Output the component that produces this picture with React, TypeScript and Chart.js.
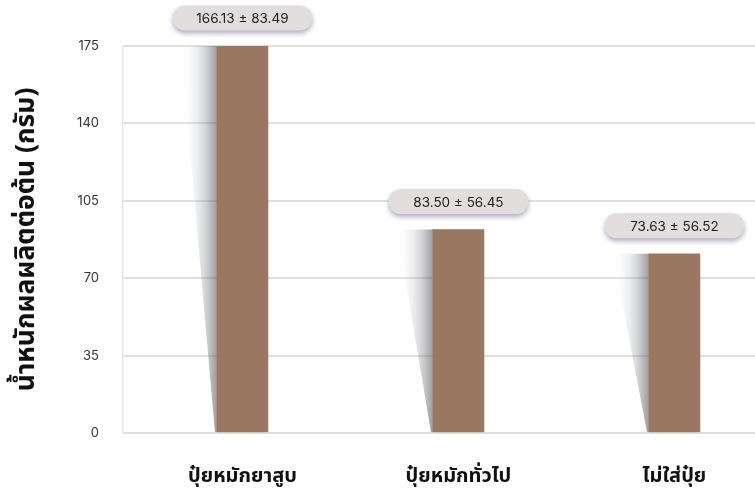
import React, { useEffect, useRef } from 'react';
import { Chart, registerables } from 'chart.js';

Chart.register(...registerables);

const categories = ['ปุ๋ยหมักยาสูบ', 'ปุ๋ยหมักทั่วไป', 'ไม่ใส่ปุ๋ย'];
const positions = [1, 2, 3];
const barHeights = [175, 92, 81];
const means = ['166.13', '83.50', '73.63'];
const sds = ['83.49', '56.45', '56.52'];
const yTicks = [0, 35, 70, 105, 140, 175];
const yTitle = 'น้ำหนักผลผลิตต่อต้น (กรัม)';

const THAI = "'Noto Sans Thai', 'Noto Sans Thai UI', 'Noto Sans', Roboto, sans-serif";
const NUM = "Inter, Roboto, 'Noto Sans', sans-serif";

const barShadow = {
  id: 'barShadow',
  beforeDatasetsDraw(chart: any) {
    const ctx = chart.ctx;
    const meta = chart.getDatasetMeta(0);
    meta.data.forEach((bar: any) => {
      const left = bar.x - bar.width / 2;
      const w = 36;
      const g = ctx.createLinearGradient(left - w, 0, left, 0);
      g.addColorStop(0, 'rgba(255,255,255,0)');
      g.addColorStop(0.6, 'rgba(120,124,132,0.25)');
      g.addColorStop(1, 'rgba(70,74,84,0.55)');
      ctx.save();
      ctx.beginPath();
      ctx.moveTo(left - w, bar.y);
      ctx.lineTo(left, bar.y);
      ctx.lineTo(left, bar.base);
      ctx.lineTo(left - 2, bar.base);
      ctx.closePath();
      ctx.fillStyle = g;
      ctx.fill();
      ctx.restore();
    });
  },
};

const pills = {
  id: 'pills',
  afterDatasetsDraw(chart: any) {
    const ctx = chart.ctx;
    const meta = chart.getDatasetMeta(0);
    meta.data.forEach((bar: any, i: number) => {
      const cx = bar.x;
      const cy = bar.y - 28;
      const w = 140;
      const h = 25;
      const x0 = cx - w / 2;
      const y0 = cy - h / 2;
      ctx.save();
      ctx.shadowColor = 'rgba(80,80,120,0.45)';
      ctx.shadowBlur = 5;
      ctx.shadowOffsetY = 3;
      ctx.beginPath();
      ctx.roundRect(x0, y0, w, h, h / 2);
      ctx.fillStyle = '#e2dedd';
      ctx.fill();
      ctx.restore();
      ctx.save();
      ctx.fillStyle = '#222';
      ctx.font = `13.5px ${NUM}`;
      ctx.textAlign = 'center';
      ctx.textBaseline = 'middle';
      ctx.fillText(`${means[i]} ± ${sds[i]}`, cx, cy + 1);
      ctx.restore();
    });
  },
};

export default function App() {
  const ref = useRef<HTMLCanvasElement>(null);
  useEffect(() => {
    if (!ref.current) return;
    const chart = new Chart(ref.current, {
      type: 'bar',
      data: {
        datasets: [
          {
            data: positions.map((p, i) => ({ x: p, y: barHeights[i] })),
            backgroundColor: '#9a7760',
            barThickness: 51,
            borderWidth: 0,
          },
        ],
      },
      options: {
        animation: false,
        responsive: false,
        maintainAspectRatio: false,
        layout: { padding: { top: 46, left: 0, right: 0, bottom: 0 } },
        plugins: { legend: { display: false }, tooltip: { enabled: false } },
        scales: {
          x: {
            type: 'linear',
            offset: false,
            min: 0.447,
            max: 3.373,
            grid: { display: false, offset: false },
            border: { display: false },
            afterBuildTicks: (s: any) => {
              s.ticks = positions.map((v) => ({ value: v }));
            },
            afterFit: (s: any) => {
              s.height = 58;
            },
            ticks: {
              autoSkip: false,
              maxRotation: 0,
              padding: 25,
              color: '#111',
              font: { size: 20, weight: 'bold', family: THAI },
              callback: (v: any) => {
                const k = positions.indexOf(Number(v));
                return k >= 0 ? categories[k] : '';
              },
            },
          },
          y: {
            min: 0,
            max: 175,
            afterBuildTicks: (s: any) => {
              s.ticks = yTicks.map((v) => ({ value: v }));
            },
            afterFit: (s: any) => {
              s.width = 123;
            },
            grid: { color: '#e0e0e0', lineWidth: 2, drawTicks: false },
            border: { display: true, color: '#e6e6e6', width: 1.5 },
            ticks: { padding: 24, color: '#333', font: { size: 13, family: NUM } },
            title: {
              display: true,
              text: yTitle,
              color: '#111',
              font: { size: 26.5, weight: 'bold', family: THAI },
              padding: { top: 13, bottom: 0 },
            },
          },
        },
      },
      plugins: [barShadow, pills],
    });
    return () => chart.destroy();
  }, []);
  return (
    <div style={{ position: 'fixed', left: 0, top: 0, width: 755, height: 491, overflow: 'hidden', background: '#fff' }}>
      <canvas ref={ref} width={755} height={491} style={{ display: 'block' }} />
    </div>
  );
}
